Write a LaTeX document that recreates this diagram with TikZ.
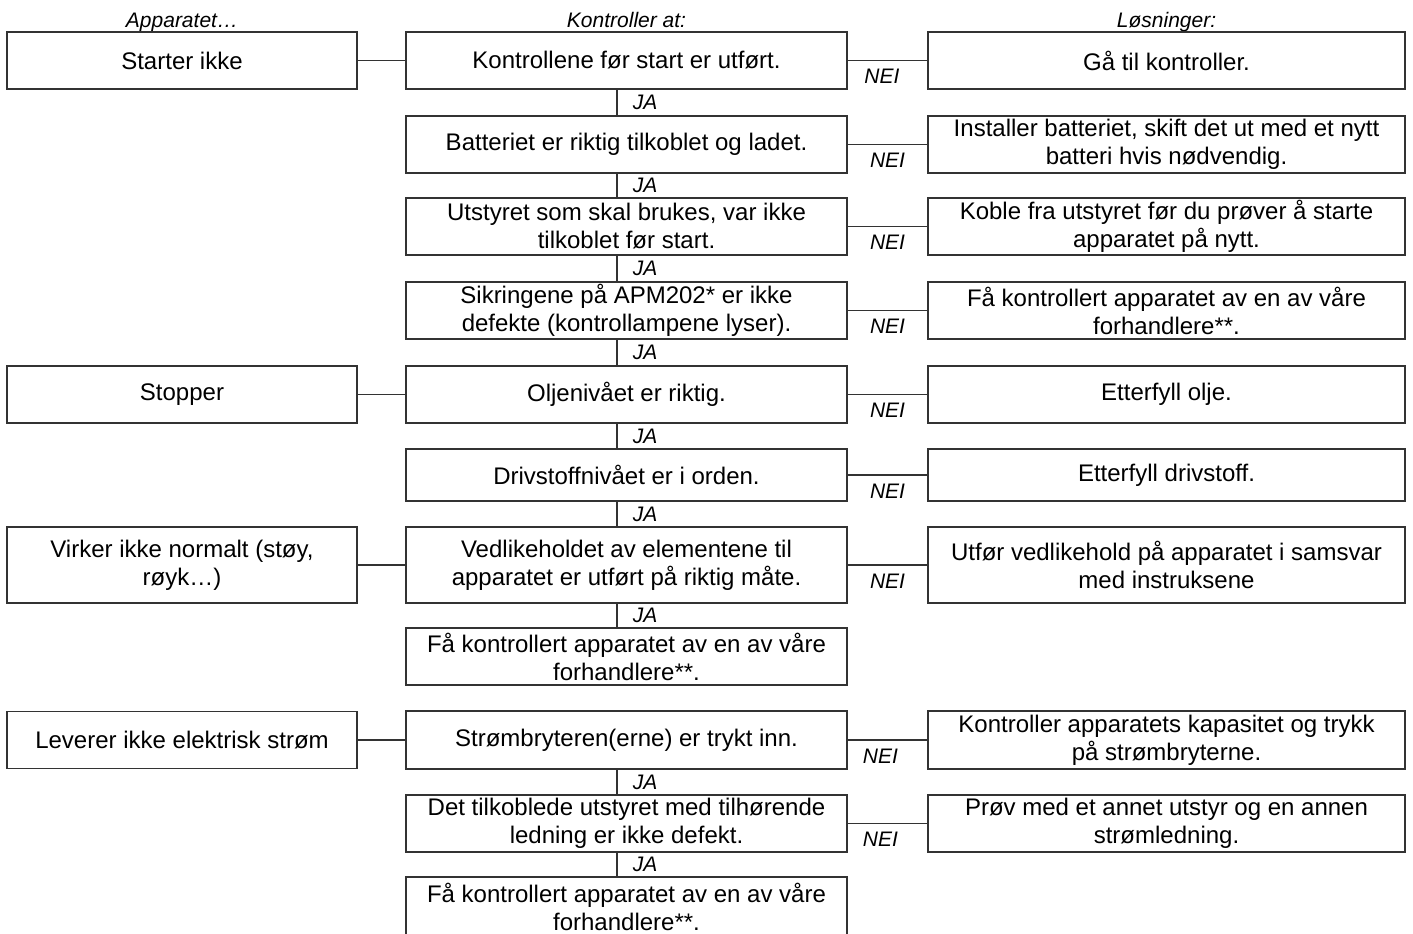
\documentclass[tikz,border=0pt]{standalone}
\usepackage{fontspec}
\setmainfont{Liberation Sans}
\usetikzlibrary{calc, positioning}

\begin{document}
\begin{tikzpicture}[x=0.5pt, y=-0.5pt,
    box/.style={draw=black!80, line width=0.8pt, align=center, inner sep=0pt,
      minimum height=28.5pt, font=\fontsize{12}{14}\selectfont},
    leftbox/.style={box, minimum width=175pt},
    checkbox/.style={box, minimum width=220.5pt},
    fixbox/.style={box, minimum width=238.5pt},
    head/.style={font=\fontsize{10.5}{12}\selectfont\itshape, anchor=base},
    tag/.style={font=\fontsize{10.5}{12}\selectfont\itshape, inner sep=0pt},
    link/.style={draw=black!80, line width=0.8pt}]
  \useasboundingbox (0,0) rectangle (1413,933);
  \coordinate (spine) at (617,0);

  \node[head] (hA) at (182,27) {Apparatet…};
  \node[head] (hK) at (626.5,27) {Kontroller at:};
  \node[head] (hL) at (1166.5,27) {Løsninger:};

  \node[leftbox] (a1) at (182,60.5) {Starter ikke};
  \node[leftbox] (a2) at (182,394.5) {Stopper};
  \node[leftbox, minimum height=38pt] (a3) at (182,565) {Virker ikke normalt (støy,\\røyk…)};
  \node[leftbox] (a4) at (182,740) {Leverer ikke elektrisk strøm};

  \node[checkbox] (k1) at (626.5,60.5) {Kontrollene før start er utført.};
  \node[checkbox] (k2) at (626.5,144.5) {Batteriet er riktig tilkoblet og ladet.};
  \node[checkbox] (k3) at (626.5,226.5) {Utstyret som skal brukes, var ikke\\tilkoblet før start.};
  \node[checkbox] (k4) at (626.5,310.5) {Sikringene på APM202* er ikke\\defekte (kontrollampene lyser).};
  \node[checkbox] (k5) at (626.5,394.5) {Oljenivået er riktig.};
  \node[checkbox, minimum height=26pt] (k6) at (626.5,475) {Drivstoffnivået er i orden.};
  \node[checkbox, minimum height=38pt] (k7) at (626.5,565) {Vedlikeholdet av elementene til\\apparatet er utført på riktig måte.};
  \node[checkbox] (k8) at (626.5,656.5) {Få kontrollert apparatet av en av våre\\forhandlere**.};
  \node[checkbox, minimum height=29pt] (k9) at (626.5,740) {Strømbryteren(erne) er trykt inn.};
  \node[checkbox] (k10) at (626.5,823.5) {Det tilkoblede utstyret med tilhørende\\ledning er ikke defekt.};
  \node[checkbox, minimum height=29.5pt] (k11) at (626.5,906.5) {Få kontrollert apparatet av en av våre\\forhandlere**.};

  \node[fixbox] (l1) at (1166.5,60.5) {Gå til kontroller.};
  \node[fixbox] (l2) at (1166.5,144.5) {Installer batteriet, skift det ut med et nytt\\batteri hvis nødvendig.};
  \node[fixbox] (l3) at (1166.5,226.5) {Koble fra utstyret før du prøver å starte\\apparatet på nytt.};
  \node[fixbox] (l4) at (1166.5,310.5) {Få kontrollert apparatet av en av våre\\forhandlere**.};
  \node[fixbox] (l5) at (1166.5,394.5) {Etterfyll olje.};
  \node[fixbox, minimum height=26pt] (l6) at (1166.5,475) {Etterfyll drivstoff.};
  \node[fixbox, minimum height=38pt] (l7) at (1166.5,565) {Utfør vedlikehold på apparatet i samsvar\\med instruksene};
  \node[fixbox, minimum height=29pt] (l9) at (1166.5,740) {Kontroller apparatets kapasitet og trykk\\på strømbryterne.};
  \node[fixbox] (l10) at (1166.5,823.5) {Prøv med et annet utstyr og en annen\\strømledning.};

  \draw[link] (a1) -- (k1);
  \draw[link] (a2) -- (k5);
  \draw[link] (a3) -- (k7);
  \draw[link] (a4) -- (k9);

  \draw[link] (k1) -- node[tag, pos=0.43, yshift=-8pt] {NEI} (l1);
  \foreach \i in {2,...,7}
    \draw[link] (k\i) -- node[tag, yshift=-8pt] {NEI} (l\i);
  \foreach \i in {9,10}
    \draw[link] (k\i) -- node[tag, pos=0.41, yshift=-8pt] {NEI} (l\i);

  \foreach \i/\j in {1/2,2/3,3/4,4/5,5/6,6/7,7/8,9/10,10/11}
    \draw[link] (k\i.south -| spine) -- node[tag, xshift=14pt] {JA} (k\j.north -| spine);
\end{tikzpicture}
\end{document}
